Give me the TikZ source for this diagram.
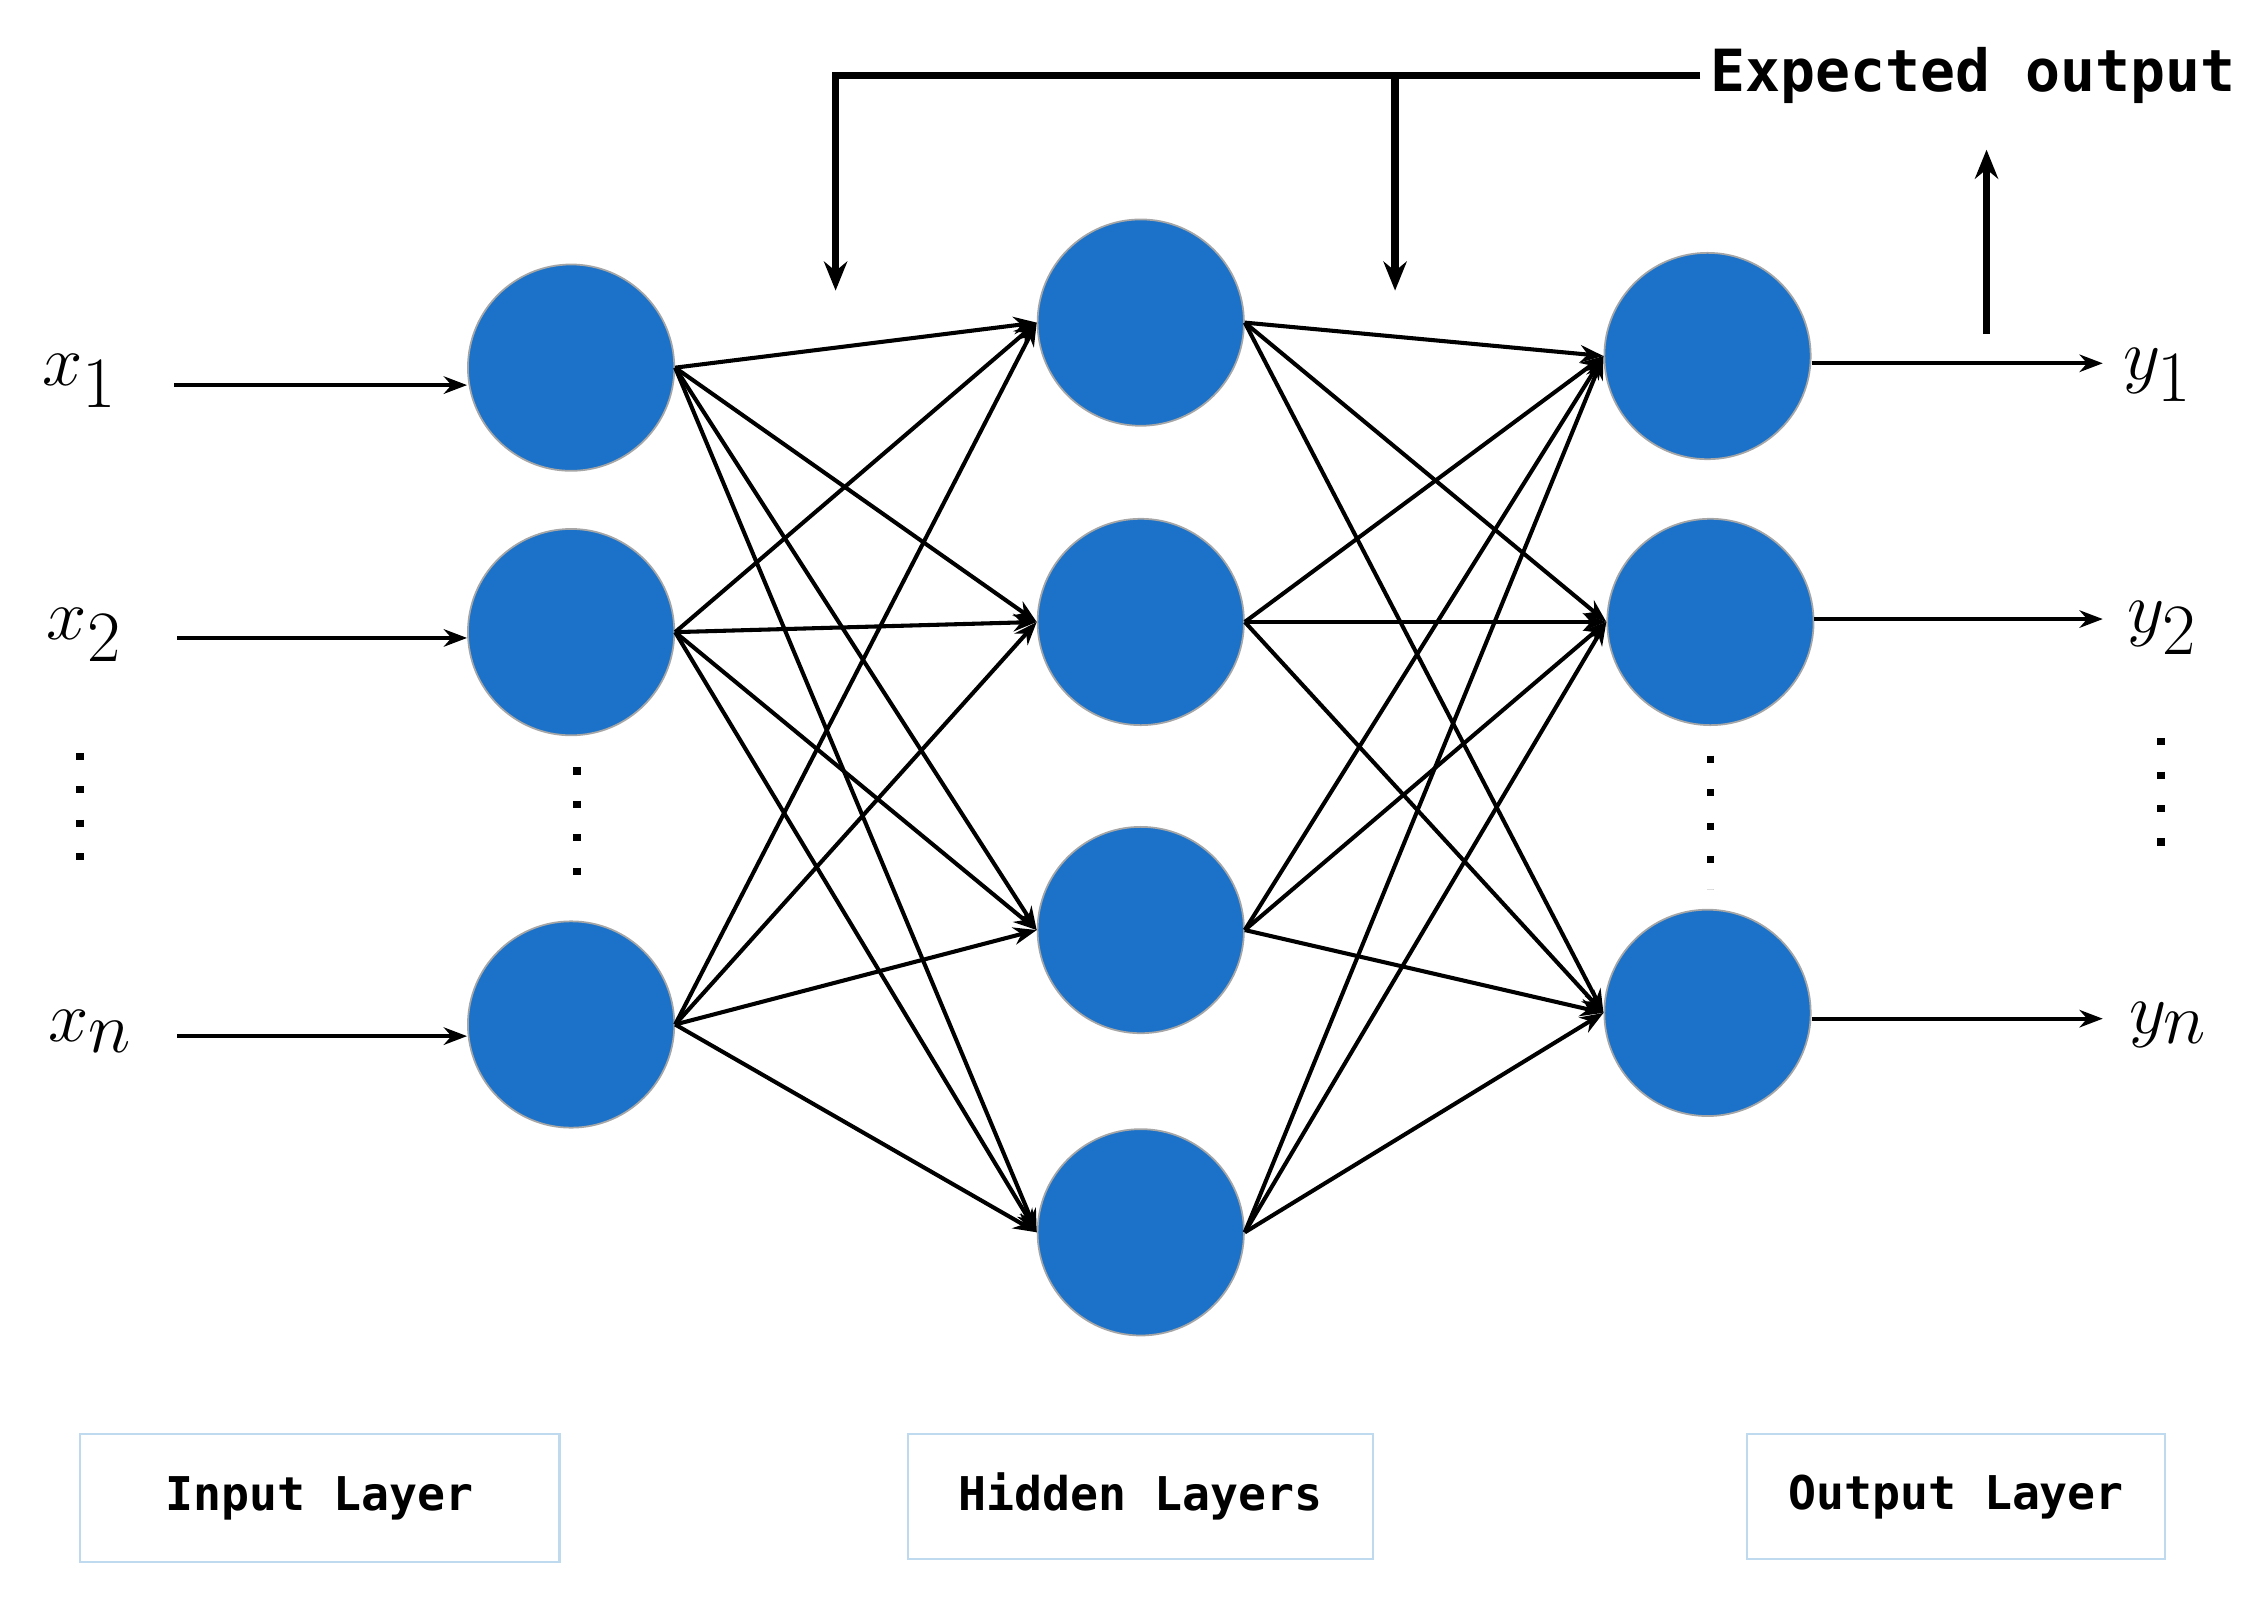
\documentclass[tikz,border=0pt]{standalone}
\usepackage{fontspec}
\newfontfamily\mono{DejaVu Sans Mono}
\usetikzlibrary{arrows.meta}
\definecolor{nb}{HTML}{1B72C8}
\definecolor{bx}{HTML}{BFD9EE}
\begin{document}
\begin{tikzpicture}[x=0.5pt,y=-0.5pt,
  neu/.style={circle,fill=nb,draw=gray!70,line width=0.6pt,minimum size=71pt,inner sep=0},
  e/.style={line width=1.4pt,-{Stealth[length=8pt,width=6pt]}},
  lab/.style={font=\fontsize{44}{44}\selectfont},
  dt/.style={line width=2.5pt,dash pattern=on 2.5pt off 9pt},
  box/.style={draw=bx,line width=0.8pt,font=\mono\bfseries\fontsize{16}{16}\selectfont}]
\useasboundingbox (0,0) rectangle (1560,1101);
\node[neu] (i1) at (393,253) {};
\node[neu] (i2) at (393,435) {};
\node[neu] (i3) at (393,705) {};
\node[neu] (h1) at (785,222) {};
\node[neu] (h2) at (785,428) {};
\node[neu] (h3) at (785,640) {};
\node[neu] (h4) at (785,848) {};
\node[neu] (o1) at (1175,245) {};
\node[neu] (o2) at (1177,428) {};
\node[neu] (o3) at (1175,697) {};
\foreach \i in {i1,i2,i3} \foreach \h in {h1,h2,h3,h4} \draw[e] (\i.east) -- (\h.west);
\foreach \h in {h1,h2,h3,h4} \foreach \o in {o1,o2,o3} \draw[e] (\h.east) -- (\o.west);
% inputs
\node[lab] (x1) at (55,262) {$x_1$};
\node[lab] (x2) at (58,437) {$x_2$};
\node[lab] (xn) at (62,710) {$x_n$};
\coordinate (a1) at (120,265); \coordinate (a2) at (122,439); \coordinate (a3) at (122,713);
\draw[e] (a1) -- (i1.west|-a1);
\draw[e] (a2) -- (i2.west|-a2);
\draw[e] (a3) -- (i3.west|-a3);
\coordinate (d1) at (55,518); \coordinate (d2) at (55,608);
\draw[dt] (d1) -- (d2);
\coordinate (d3) at (397,528); \coordinate (d4) at (397,618);
\draw[dt] (d3) -- (d4);
% outputs
\node[lab] (y1) at (1485,258) {$y_1$};
\node[lab] (y2) at (1488,432) {$y_2$};
\node[lab] (yn) at (1492,705) {$y_n$};
\coordinate (b1) at (1447,250); \coordinate (b2) at (1447,426); \coordinate (b3) at (1447,701);
\draw[e] (o1.east|-b1) -- (b1);
\draw[e] (o2.east|-b2) -- (b2);
\draw[e] (o3.east|-b3) -- (b3);
\coordinate (d5) at (1487,508); \coordinate (d6) at (1487,598);
\draw[dt] (d5) -- (d6);
\coordinate (d7) at (1177,520); \coordinate (d8) at (1177,612);
\draw[dt] (d7) -- (d8);
% feedback
\node[font=\mono\bfseries\fontsize{20}{20}\selectfont,anchor=west] (exp) at (1170,52) {Expected output};
\coordinate (f1) at (575,52); \coordinate (f2) at (575,200);
\coordinate (f3) at (960,52); \coordinate (f4) at (960,200);
\draw[line width=2.5pt,-{Stealth[length=10pt,width=8pt]}] (exp.west) -- (f1) -- (f2);
\draw[line width=2.5pt,-{Stealth[length=10pt,width=8pt]}] (f3) -- (f4);
\coordinate (u1) at (1367,230); \coordinate (u2) at (1367,103);
\draw[line width=2.5pt,-{Stealth[length=10pt,width=8pt]}] (u1) -- (u2);
% layer boxes
\node[box,minimum width=165pt,minimum height=44pt] (L1) at (220,1031) {Input Layer};
\node[box,minimum width=160pt,minimum height=43pt] (L2) at (785,1030) {Hidden Layers};
\node[box,minimum width=144pt,minimum height=43pt] (L3) at (1346,1030) {Output Layer};
\end{tikzpicture}
\end{document}
